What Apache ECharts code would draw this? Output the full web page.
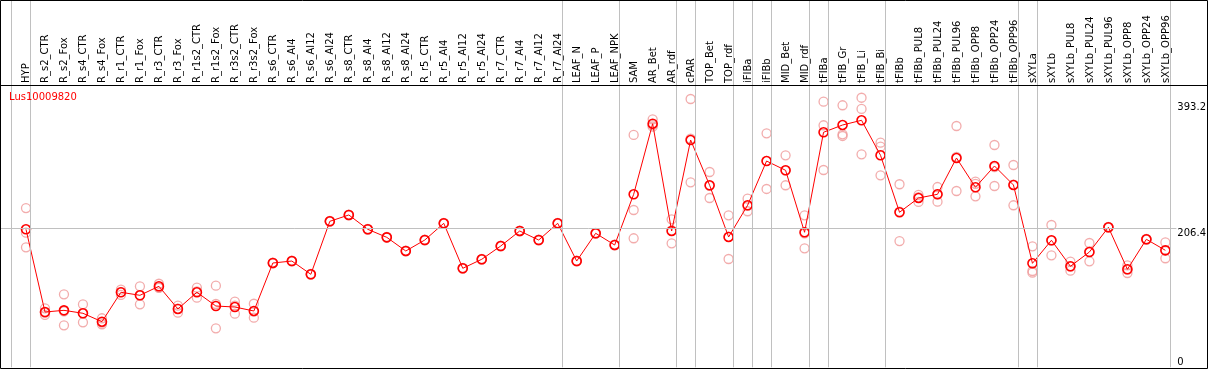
<!DOCTYPE html>
<html>
<head>
<meta charset="utf-8">
<script src="https://cdn.jsdelivr.net/npm/echarts@6/dist/echarts.min.js"></script>
<style>
html,body{margin:0;padding:0;background:#fff;}
#chart{width:1209px;height:370px;}
</style>
</head>
<body>
<div id="chart"></div>
<script>
// ---------- data ----------
const categories = ["HYP","R_s2_CTR","R_s2_Fox","R_s4_CTR","R_s4_Fox","R_r1_CTR","R_r1_Fox","R_r3_CTR","R_r3_Fox","R_r1s2_CTR","R_r1s2_Fox","R_r3s2_CTR","R_r3s2_Fox","R_s6_CTR","R_s6_Al4","R_s6_Al12","R_s6_Al24","R_s8_CTR","R_s8_Al4","R_s8_Al12","R_s8_Al24","R_r5_CTR","R_r5_Al4","R_r5_Al12","R_r5_Al24","R_r7_CTR","R_r7_Al4","R_r7_Al12","R_r7_Al24","LEAF_N","LEAF_P","LEAF_NPK","SAM","AR_Bet","AR_rdf","cPAR","TOP_Bet","TOP_rdf","iFIBa","iFIBb","MID_Bet","MID_rdf","tFIBa","tFIB_Gr","tFIB_Li","tFIB_Bi","tFIBb","tFIBb_PUL8","tFIBb_PUL24","tFIBb_PUL96","tFIBb_OPP8","tFIBb_OPP24","tFIBb_OPP96","sXYLa","sXYLb","sXYLb_PUL8","sXYLb_PUL24","sXYLb_PUL96","sXYLb_OPP8","sXYLb_OPP24","sXYLb_OPP96"];

const meanValues = [204.9,82.1,84.6,80.2,67.7,111.4,106.9,120.3,86.6,111.4,91.0,89.5,83.6,154.9,157.8,138.1,216.8,226.2,204.9,193.0,172.7,189.0,213.8,147.0,160.4,180.1,202.4,189.0,213.8,157.8,199.0,181.6,256.9,361.7,202.4,337.5,270.3,193.5,240.6,306.3,292.5,200.5,349.0,359.8,366.8,314.8,230.2,251.4,256.9,310.8,267.3,298.9,270.7,154.4,188.6,150.0,171.2,207.9,145.5,190.1,173.7];

const rep1 = [236.5,87.6,108.4,93.5,72.8,115.2,120.3,124.1,91.5,118.2,121.2,97.4,94.4,155.5,158.3,138.6,217.3,226.7,205.4,193.5,173.2,189.5,214.3,147.5,160.9,180.6,202.9,189.5,214.3,158.3,199.5,182.1,345.0,368.3,219.8,398.4,290.0,225.7,250.4,347.5,314.8,225.7,394.4,389.1,400.3,333.5,271.8,255.9,267.7,358.3,275.6,330.1,300.4,179.7,211.3,156.8,184.6,208.4,151.5,190.6,185.6];
const rep2 = [199.9,81.0,83.0,80.3,66.4,111.6,107.0,118.0,87.0,112.6,94.0,91.5,82.7,154.9,157.8,138.1,216.8,226.2,204.9,193.0,172.7,189.0,213.8,147.0,160.4,180.1,202.4,189.0,213.8,157.8,199.0,181.6,233.6,359.5,203.3,339.4,269.5,194.0,239.7,306.6,292.4,199.0,359.4,346.0,383.6,327.6,231.3,252.8,257.0,312.3,272.4,297.4,271.1,143.0,188.2,149.7,171.6,207.9,145.0,190.1,173.6];
const rep3 = [178.2,77.7,62.4,66.8,63.9,107.4,93.5,118.8,81.1,103.4,57.9,79.6,73.7,154.3,157.3,137.6,216.3,225.7,204.4,192.5,172.2,188.5,213.3,146.5,159.9,179.6,201.9,188.5,213.3,157.3,198.5,181.1,191.6,357.3,184.1,274.7,251.4,160.8,231.7,264.8,270.3,176.7,293.0,343.5,316.3,285.1,187.5,245.5,245.9,261.8,253.9,269.2,240.6,140.5,166.3,143.5,157.4,207.4,140.0,189.6,161.9];

const yTickLabels = [0, 206.4, 393.2];
const groupEnds = [-1,0,28,31,34,35,37,38,39,41,42,45,52,53,60];
const title = "Lus10009820";

// ---------- chart ----------
const idx = categories.map((_, i) => i);
const SEP_OFFSET = 0.237;
const X_MIN = -25/19, X_MAX = X_MIN + 1176/19;
const Y_MAX = 419.2;
const font = "DejaVu Sans";

const chart = echarts.init(document.getElementById('chart'), null, {renderer: 'canvas'});

const sepLines = groupEnds.map(g => ({xAxis: g + SEP_OFFSET}));
const markLineBase = {
  silent: true, symbol: 'none', animation: false,
  label: {show: false},
  lineStyle: {color: '#c0c0c0', width: 1, type: 'solid'},
  emphasis: {disabled: true}
};

const option = {
  animation: false,
  backgroundColor: '#fff',
  title: {
    text: title, left: 9, top: 92, padding: 0,
    textStyle: {color: '#ff0000', fontSize: 10, fontWeight: 'normal', fontFamily: font}
  },
  grid: [
    {left: 1, width: 1176, top: 0, height: 85},
    {left: 1, width: 1176, top: 85, bottom: 2.7}
  ],
  xAxis: [
    {
      gridIndex: 0, type: 'value', min: X_MIN, max: X_MAX, position: 'bottom',
      axisLine: {show: false}, axisTick: {show: false}, splitLine: {show: false},
      axisLabel: {
        customValues: idx, inside: true, rotate: 90, margin: 2,
        formatter: v => categories[Math.round(v)] || '',
        fontSize: 10, fontFamily: font, color: '#000', hideOverlap: false
      }
    },
    {
      gridIndex: 1, type: 'value', min: X_MIN, max: X_MAX,
      axisLine: {show: false}, axisTick: {show: false}, splitLine: {show: false},
      axisLabel: {show: false}
    }
  ],
  yAxis: [
    {gridIndex: 0, type: 'value', min: 0, max: 1, show: false},
    {
      gridIndex: 1, type: 'value', min: 0, max: Y_MAX, position: 'right',
      axisLine: {show: false}, axisTick: {show: false}, splitLine: {show: false},
      axisLabel: {
        customValues: yTickLabels, margin: 1, align: 'left',
        verticalAlign: 'top', verticalAlignMinLabel: 'bottom',
        formatter: v => String(v),
        fontSize: 10, fontFamily: font, color: '#000'
      }
    }
  ],
  series: [
    {
      type: 'line', xAxisIndex: 0, yAxisIndex: 0, data: [], silent: true,
      markLine: Object.assign({}, markLineBase, {data: sepLines})
    },
    {
      type: 'line', xAxisIndex: 1, yAxisIndex: 1, data: [], silent: true,
      markLine: Object.assign({}, markLineBase, {data: sepLines.concat([{yAxis: yTickLabels[1]}])})
    },
    ...[rep1, rep2, rep3].map(r => ({
      type: 'scatter', xAxisIndex: 1, yAxisIndex: 1, clip: false, silent: true,
      symbol: 'circle', symbolSize: 9,
      itemStyle: {color: 'rgba(0,0,0,0)', borderColor: '#ef9797', borderWidth: 1.3},
      data: r.map((v, i) => [i, v])
    })),
    {
      type: 'line', xAxisIndex: 1, yAxisIndex: 1, clip: false, silent: true,
      symbol: 'circle', symbolSize: 9,
      lineStyle: {color: '#ff0000', width: 1},
      itemStyle: {color: 'rgba(0,0,0,0)', borderColor: '#ff0000', borderWidth: 1.6},
      data: meanValues.map((v, i) => [i, v])
    }
  ],
  graphic: [
    {type: 'rect', silent: true, z: 100, shape: {x: 0.5, y: 0.5, width: 1207, height: 368},
     style: {fill: null, stroke: '#000', lineWidth: 1}},
    {type: 'line', silent: true, z: 100, shape: {x1: 0, y1: 85.5, x2: 1208, y2: 85.5},
     style: {stroke: '#000', lineWidth: 1}}
  ]
};
chart.setOption(option);
</script>
</body>
</html>
